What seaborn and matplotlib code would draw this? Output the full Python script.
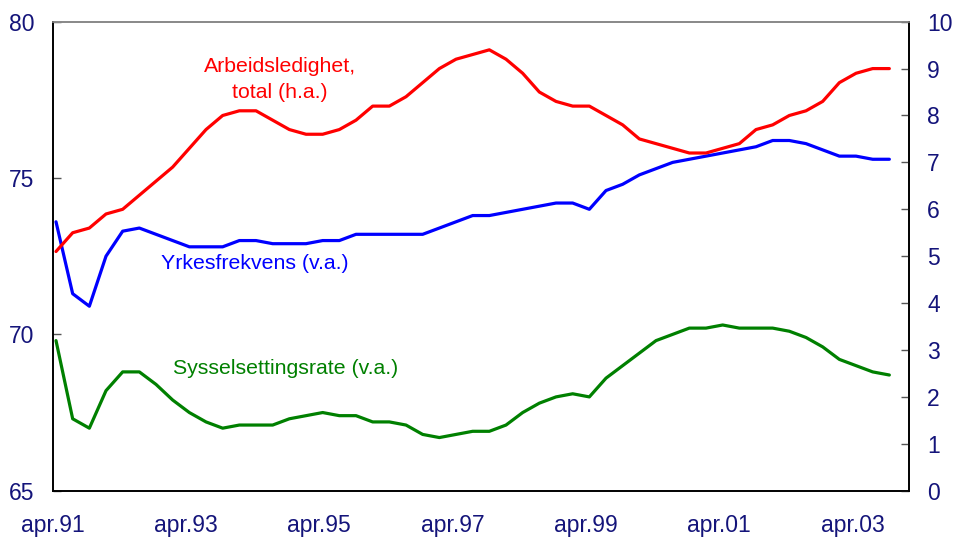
import numpy as np
import pandas as pd
import seaborn as sns
from matplotlib import pyplot as plt

# quarterly data, apr.91 - 03
tick_labels = ['apr.91', 'apr.93', 'apr.95', 'apr.97', 'apr.99', 'apr.01', 'apr.03']

arbeidsledighet = [5.1, 5.5, 5.6, 5.9, 6.0, 6.3, 6.6, 6.9, 7.3, 7.7, 8.0, 8.1, 8.1, 7.9, 7.7,
                   7.6, 7.6, 7.7, 7.9, 8.2, 8.2, 8.4, 8.7, 9.0, 9.2, 9.3, 9.4, 9.2, 8.9, 8.5,
                   8.3, 8.2, 8.2, 8.0, 7.8, 7.5, 7.4, 7.3, 7.2, 7.2, 7.3, 7.4, 7.7, 7.8, 8.0,
                   8.1, 8.3, 8.7, 8.9, 9.0, 9.0]

yrkesfrekvens = [73.6, 71.3, 70.9, 72.5, 73.3, 73.4, 73.2, 73.0, 72.8, 72.8, 72.8, 73.0, 73.0,
                 72.9, 72.9, 72.9, 73.0, 73.0, 73.2, 73.2, 73.2, 73.2, 73.2, 73.4, 73.6, 73.8,
                 73.8, 73.9, 74.0, 74.1, 74.2, 74.2, 74.0, 74.6, 74.8, 75.1, 75.3, 75.5, 75.6,
                 75.7, 75.8, 75.9, 76.0, 76.2, 76.2, 76.1, 75.9, 75.7, 75.7, 75.6, 75.6]

sysselsetting = [69.8, 67.3, 67.0, 68.2, 68.8, 68.8, 68.4, 67.9, 67.5, 67.2, 67.0, 67.1, 67.1,
                 67.1, 67.3, 67.4, 67.5, 67.4, 67.4, 67.2, 67.2, 67.1, 66.8, 66.7, 66.8, 66.9,
                 66.9, 67.1, 67.5, 67.8, 68.0, 68.1, 68.0, 68.6, 69.0, 69.4, 69.8, 70.0, 70.2,
                 70.2, 70.3, 70.2, 70.2, 70.2, 70.1, 69.9, 69.6, 69.2, 69.0, 68.8, 68.7]

df = pd.DataFrame({'q': np.arange(len(arbeidsledighet)),
                   'ledighet': arbeidsledighet,
                   'yrkes': yrkesfrekvens,
                   'syssel': sysselsetting})

sns.set_style('white')
plt.rcParams['font.family'] = ['Liberation Sans', 'DejaVu Sans']

navy = '#14147a'
fig = plt.figure(figsize=(9.56, 5.38), dpi=100)
ax = fig.add_axes([0.0551, 0.0879, 0.8954, 0.8718])
ax2 = ax.twinx()

sns.lineplot(data=df, x='q', y='yrkes', ax=ax, color='#0000ff', linewidth=2.3)
sns.lineplot(data=df, x='q', y='syssel', ax=ax, color='#008000', linewidth=2.3)
sns.lineplot(data=df, x='q', y='ledighet', ax=ax2, color='#ff0000', linewidth=2.3)

ax.set_xlim(-0.2, 51.16)
ax.set_ylim(65, 80)
ax2.set_ylim(0, 10)
ax.set_xticks(np.arange(0, 49, 8) - 0.2)
ax.set_xticklabels(tick_labels)
ax.set_yticks([65, 70, 75, 80])
ax2.set_yticks(range(0, 11))
for a in (ax, ax2):
    a.set_xlabel('')
    a.set_ylabel('')
    a.tick_params(direction='in', length=6, width=1, color='#555555',
                  labelsize=16.5, labelcolor=navy, pad=13.3)
ax.tick_params(axis='x', pad=16.5)

for a in (ax, ax2):
    for s in ['left', 'right', 'bottom']:
        a.spines[s].set_color('black')
        a.spines[s].set_linewidth(1.2)
    a.spines['top'].set_color('#888888')
    a.spines['top'].set_linewidth(1.2)

ax.text(13.45, 78.15, 'Arbeidsledighet,\ntotal (h.a.)', color='#ff0000', fontsize=15.3,
        ha='center', va='center', linespacing=1.45)
ax.text(11.95, 72.28, 'Yrkesfrekvens (v.a.)', color='#0000ff', fontsize=15.3,
        ha='center', va='center')
ax.text(13.75, 68.92, 'Sysselsettingsrate (v.a.)', color='#008000', fontsize=15.3,
        ha='center', va='center')

fig.savefig('out.png', dpi=100)
